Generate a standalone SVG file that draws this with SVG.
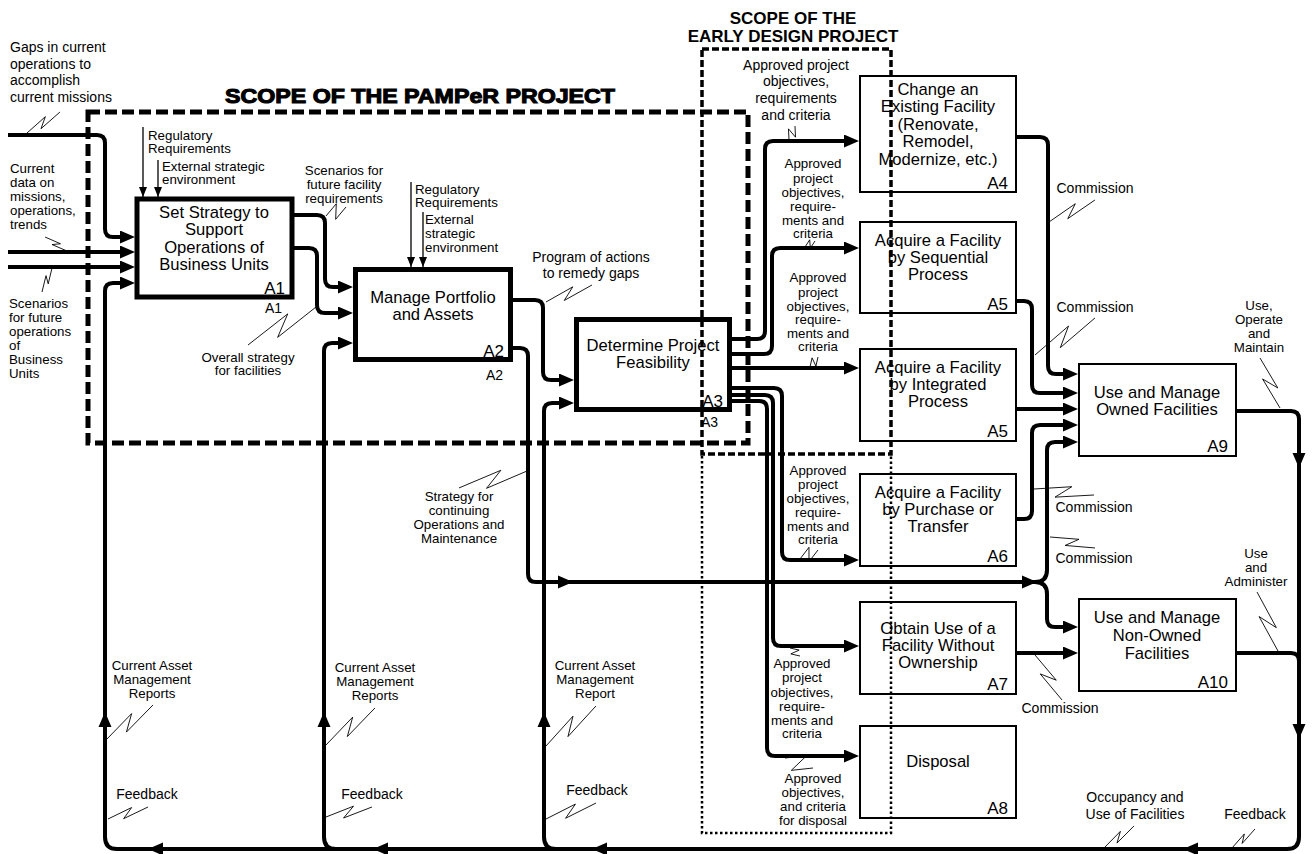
<svg xmlns="http://www.w3.org/2000/svg" xmlns:xlink="http://www.w3.org/1999/xlink" width="1316" height="854" viewBox="0 0 1316 854">
  <style>
    text { font-family: "Liberation Sans", Arial, sans-serif; fill: #000; }
    .lb { font-size: 14px; }
    .sm { font-size: 13.3px; }
    .mid { text-anchor: middle; }
    .bx { font-size: 16.6px; text-anchor: middle; }
    .id { font-size: 17px; text-anchor: end; }
    .ids { font-size: 14px; text-anchor: end; }
    .box { fill: #fff; stroke: #000; stroke-width: 2; }
    .box.thick { stroke-width: 5; }
    .wire { fill: none; stroke: #000; stroke-width: 4; stroke-linejoin: round; }
    .arr { marker-end: url(#ar); }
    .ctl { fill: none; stroke: #000; stroke-width: 1.3; marker-end: url(#ta); }
    .sq { fill: none; stroke: #000; stroke-width: 0.9; }
    .pamper { fill: none; stroke: #000; stroke-width: 5; stroke-dasharray: 12 5; }
    .early { fill: none; stroke: #000; stroke-width: 3.5; stroke-dasharray: 7 3; }
    .dots { fill: none; stroke: #000; stroke-width: 2.5; stroke-dasharray: 2.5 2.5; }
  </style>
  <defs>
    <marker id="ar" markerUnits="userSpaceOnUse" markerWidth="15" markerHeight="13" viewBox="0 0 15 13" refX="10" refY="6.5" orient="auto">
      <path d="M0,0 L15,6.5 L0,13 z"/>
    </marker>
    <marker id="ta" markerUnits="userSpaceOnUse" markerWidth="10" markerHeight="8" viewBox="0 0 10 8" refX="10" refY="4" orient="auto">
      <path d="M0,0 L10,4 L0,8 z"/>
    </marker>
    <!-- arrowhead placed along a wire, tip at origin pointing +x -->
    <path id="ah" d="M0,0 L-15,-6.5 L-15,6.5 z"/>
    <!-- label squiggles, unit length 100 along +x -->
    <path id="sq" class="sq" vector-effect="non-scaling-stroke" d="M0,0 L62,-10 L36,10 L100,0"/>
    <path id="sqs" class="sq" vector-effect="non-scaling-stroke" d="M0,0 L66,-32 L34,32 L100,0"/>
  </defs>

  <rect width="1316" height="854" fill="#fff"/>

  <!-- connectors -->
  <g id="connectors">
    <!-- inputs to A1 -->
    <path class="wire arr" d="M8,135 H97 Q105,135 105,143 V229 Q105,237 113,237 H130"/>
    <path class="wire arr" d="M8,252 H130"/>
    <path class="wire arr" d="M8,267 H130"/>
    <!-- feedback loop from A9 / A10 back along the bottom -->
    <path class="wire arr" d="M1237,411 H1291 Q1299,411 1299,419 V837 Q1299,849 1287,849 H117 Q105,849 105,837 V291 Q105,283 113,283 H130"/>
    <path class="wire" d="M1237,653 H1291 Q1299,653 1299,661"/>
    <path class="wire arr" d="M336,849 Q324,849 324,837 V351 Q324,343 332,343 H348"/>
    <path class="wire arr" d="M556,849 Q544,849 544,837 V411 Q544,403 552,403 H569"/>
    <!-- A1 outputs -->
    <path class="wire arr" d="M294,215 H317 Q325,215 325,223 V279 Q325,287 333,287 H348"/>
    <path class="wire arr" d="M294,248 H309 Q317,248 317,256 V305 Q317,313 325,313 H348"/>
    <!-- A2 outputs -->
    <path class="wire arr" d="M513,300 H535 Q543,300 543,308 V372 Q543,380 551,380 H569"/>
    <path class="wire arr" d="M513,348 H520 Q528,348 528,356 V574 Q528,582 536,582 H1035 Q1047,582 1047,570 V450 Q1047,442 1055,442 H1073"/>
    <path class="wire arr" d="M1035,582 Q1047,582 1047,594 V619 Q1047,627 1055,627 H1073"/>
    <!-- A3 outputs -->
    <path class="wire arr" d="M732,339 H757 Q765,339 765,331 V149 Q765,141 773,141 H854"/>
    <path class="wire arr" d="M732,354 H764 Q772,354 772,346 V256 Q772,248 780,248 H854"/>
    <path class="wire arr" d="M732,368 H854"/>
    <path class="wire arr" d="M732,388 H774 Q782,388 782,396 V552 Q782,560 790,560 H854"/>
    <path class="wire arr" d="M732,395 H765 Q773,395 773,403 V638 Q773,646 781,646 H854"/>
    <path class="wire arr" d="M732,401 H759 Q767,401 767,409 V748 Q767,756 775,756 H854"/>
    <!-- commissioning outputs to A9 / A10 -->
    <path class="wire arr" d="M1017,137 H1040 Q1048,137 1048,145 V366 Q1048,374 1056,374 H1073"/>
    <path class="wire arr" d="M1017,301 H1024 Q1032,301 1032,309 V385 Q1032,393 1040,393 H1073"/>
    <path class="wire arr" d="M1017,409 H1073"/>
    <path class="wire arr" d="M1017,519 H1024 Q1032,519 1032,511 V433 Q1032,425 1040,425 H1073"/>
    <path class="wire arr" d="M1017,653 H1073"/>

    <!-- arrowheads along wires -->
    <use href="#ah" transform="translate(573,582)"/>
    <use href="#ah" transform="translate(1037,582)"/>
    <use href="#ah" transform="translate(105,712) rotate(-90)"/>
    <use href="#ah" transform="translate(324,712) rotate(-90)"/>
    <use href="#ah" transform="translate(544,712) rotate(-90)"/>
    <use href="#ah" transform="translate(1299,468) rotate(90)"/>
    <use href="#ah" transform="translate(1299,739) rotate(90)"/>
    <use href="#ah" transform="translate(148,849) rotate(180)"/>
    <use href="#ah" transform="translate(373,849) rotate(180)"/>
    <use href="#ah" transform="translate(592,849) rotate(180)"/>
    <use href="#ah" transform="translate(1183,849) rotate(180)"/>

    <!-- controls -->
    <path class="ctl" d="M143,127 V197"/>
    <path class="ctl" d="M158,160 V197"/>
    <path class="ctl" d="M411,182 V267"/>
    <path class="ctl" d="M423,212 V267"/>

    <!-- squiggles -->
    <use href="#sq" transform="translate(27,133) rotate(-32.5) scale(0.391)"/>
    <use href="#sq" transform="translate(67,251) rotate(-147.5) scale(0.26)"/>
    <use href="#sq" transform="translate(52,268) rotate(112.6) scale(0.26)"/>
    <use href="#sqs" transform="translate(326,216) rotate(-24.2) scale(0.219)"/>
    <use href="#sq" transform="translate(316,307) rotate(150.8) scale(0.779)"/>
    <use href="#sq" transform="translate(546,302) rotate(-20.3) scale(0.49)"/>
    <use href="#sq" transform="translate(527,471) rotate(166) scale(0.701)"/>
    <use href="#sq" transform="translate(106,740) rotate(-36.7) scale(0.586)"/>
    <use href="#sq" transform="translate(108,819) rotate(-16.7) scale(0.418)"/>
    <use href="#sq" transform="translate(326,745) rotate(-37.1) scale(0.614)"/>
    <use href="#sq" transform="translate(326,817) rotate(-12.3) scale(0.471)"/>
    <use href="#sq" transform="translate(546,746) rotate(-38.7) scale(0.64)"/>
    <use href="#sq" transform="translate(546,819) rotate(-17.7) scale(0.525)"/>
    <use href="#sqs" transform="translate(789,140) rotate(-66.8) scale(0.152)"/>
    <use href="#sqs" transform="translate(805,247) rotate(-31) scale(0.117)"/>
    <use href="#sqs" transform="translate(810,367) rotate(-51.3) scale(0.128)"/>
    <use href="#sqs" transform="translate(800,559) rotate(-26.6) scale(0.201)"/>
    <use href="#sqs" transform="translate(790,648) rotate(38.7) scale(0.128)"/>
    <use href="#sqs" transform="translate(785,758) rotate(19.7) scale(0.297)"/>
    <use href="#sq" transform="translate(1049,222) rotate(-25.6) scale(0.51)"/>
    <use href="#sq" transform="translate(1035,355) rotate(-31.7) scale(0.705)"/>
    <use href="#sq" transform="translate(1034,489) rotate(5.7) scale(0.603)"/>
    <use href="#sq" transform="translate(1050,537) rotate(13.7) scale(0.463)"/>
    <use href="#sq" transform="translate(1035,655) rotate(59) scale(0.525)"/>
    <use href="#sq" transform="translate(1280,408) rotate(-111.8) scale(0.539)"/>
    <use href="#sq" transform="translate(1278,651) rotate(-109.6) scale(0.626)"/>
    <use href="#sq" transform="translate(1104,848) rotate(-36.3) scale(0.372)"/>
    <use href="#sq" transform="translate(1232,848) rotate(-39.6) scale(0.298)"/>

    <!-- connector labels -->
    <text class="lb" x="10"><tspan x="10" y="52">Gaps in current</tspan><tspan x="10" y="69">operations to</tspan><tspan x="10" y="85">accomplish</tspan><tspan x="10" y="102">current missions</tspan></text>
    <text class="sm" x="10"><tspan x="10" y="173">Current</tspan><tspan x="10" y="187">data on</tspan><tspan x="10" y="201">missions,</tspan><tspan x="10" y="215">operations,</tspan><tspan x="10" y="229">trends</tspan></text>
    <text class="sm" x="9"><tspan x="9" y="308">Scenarios</tspan><tspan x="9" y="322">for future</tspan><tspan x="9" y="336">operations</tspan><tspan x="9" y="350">of</tspan><tspan x="9" y="364">Business</tspan><tspan x="9" y="378">Units</tspan></text>
    <text class="sm"><tspan x="148" y="140">Regulatory</tspan><tspan x="148" y="153">Requirements</tspan></text>
    <text class="sm"><tspan x="162" y="171">External strategic</tspan><tspan x="162" y="184">environment</tspan></text>
    <text class="sm mid"><tspan x="344" y="175">Scenarios for</tspan><tspan x="344" y="189">future facility</tspan><tspan x="344" y="203">requirements</tspan></text>
    <text class="sm"><tspan x="415" y="194">Regulatory</tspan><tspan x="415" y="207">Requirements</tspan></text>
    <text class="sm"><tspan x="425" y="224">External</tspan><tspan x="425" y="238">strategic</tspan><tspan x="425" y="252">environment</tspan></text>
    <text class="sm mid"><tspan x="248" y="362">Overall strategy</tspan><tspan x="248" y="375">for facilities</tspan></text>
    <text class="lb mid"><tspan x="591" y="262">Program of actions</tspan><tspan x="591" y="278">to remedy gaps</tspan></text>
    <text class="sm mid"><tspan x="459" y="501">Strategy for</tspan><tspan x="459" y="515">continuing</tspan><tspan x="459" y="529">Operations and</tspan><tspan x="459" y="543">Maintenance</tspan></text>
    <text class="sm mid"><tspan x="152" y="670">Current Asset</tspan><tspan x="152" y="684">Management</tspan><tspan x="152" y="698">Reports</tspan></text>
    <text class="lb mid" x="147" y="799">Feedback</text>
    <text class="sm mid"><tspan x="375" y="672">Current Asset</tspan><tspan x="375" y="686">Management</tspan><tspan x="375" y="700">Reports</tspan></text>
    <text class="lb mid" x="372" y="799">Feedback</text>
    <text class="sm mid"><tspan x="595" y="670">Current Asset</tspan><tspan x="595" y="684">Management</tspan><tspan x="595" y="698">Report</tspan></text>
    <text class="lb mid" x="597" y="795">Feedback</text>
    <text class="lb mid"><tspan x="796" y="70">Approved project</tspan><tspan x="796" y="86">objectives,</tspan><tspan x="796" y="103">requirements</tspan><tspan x="796" y="120">and criteria</tspan></text>
    <text class="sm mid"><tspan x="813" y="168">Approved</tspan><tspan x="813" y="183">project</tspan><tspan x="813" y="197">objectives,</tspan><tspan x="813" y="211">require-</tspan><tspan x="813" y="225">ments and</tspan><tspan x="813" y="238">criteria</tspan></text>
    <text class="sm mid"><tspan x="818" y="282">Approved</tspan><tspan x="818" y="297">project</tspan><tspan x="818" y="311">objectives,</tspan><tspan x="818" y="324">require-</tspan><tspan x="818" y="338">ments and</tspan><tspan x="818" y="351">criteria</tspan></text>
    <text class="sm mid"><tspan x="818" y="475">Approved</tspan><tspan x="818" y="489">project</tspan><tspan x="818" y="503">objectives,</tspan><tspan x="818" y="517">require-</tspan><tspan x="818" y="531">ments and</tspan><tspan x="818" y="544">criteria</tspan></text>
    <text class="sm mid"><tspan x="802" y="668">Approved</tspan><tspan x="802" y="682">project</tspan><tspan x="802" y="697">objectives,</tspan><tspan x="802" y="711">require-</tspan><tspan x="802" y="725">ments and</tspan><tspan x="802" y="738">criteria</tspan></text>
    <text class="sm mid"><tspan x="813" y="783">Approved</tspan><tspan x="813" y="797">objectives,</tspan><tspan x="813" y="811">and criteria</tspan><tspan x="813" y="825">for disposal</tspan></text>
    <text class="lb mid" x="1095" y="193">Commission</text>
    <text class="lb mid" x="1095" y="312">Commission</text>
    <text class="lb mid" x="1094" y="512">Commission</text>
    <text class="lb mid" x="1094" y="563">Commission</text>
    <text class="lb mid" x="1060" y="713">Commission</text>
    <text class="sm mid"><tspan x="1259" y="310">Use,</tspan><tspan x="1259" y="324">Operate</tspan><tspan x="1259" y="338">and</tspan><tspan x="1259" y="352">Maintain</tspan></text>
    <text class="sm mid"><tspan x="1256" y="558">Use</tspan><tspan x="1256" y="572">and</tspan><tspan x="1256" y="586">Administer</tspan></text>
    <text class="lb mid"><tspan x="1135" y="802">Occupancy and</tspan><tspan x="1135" y="819">Use of Facilities</tspan></text>
    <text class="lb mid" x="1255" y="819">Feedback</text>
  </g>

  <!-- activity boxes -->
  <g id="A1">
    <rect class="box thick" x="137" y="199" width="155" height="98"/>
    <text class="bx"><tspan x="214" y="218">Set Strategy to</tspan><tspan x="214" y="235">Support</tspan><tspan x="214" y="253">Operations of</tspan><tspan x="214" y="270">Business Units</tspan></text>
    <text class="id" x="285" y="294">A1</text>
    <text class="ids" x="282" y="313">A1</text>
  </g>
  <g id="A2">
    <rect class="box thick" x="355.5" y="269.5" width="155" height="90"/>
    <text class="bx"><tspan x="433" y="303">Manage Portfolio</tspan><tspan x="433" y="320">and Assets</tspan></text>
    <text class="id" x="504" y="357">A2</text>
    <text class="ids" x="503" y="380">A2</text>
  </g>
  <g id="A3">
    <rect class="box thick" x="576.5" y="319.5" width="153" height="90"/>
    <text class="bx"><tspan x="653" y="351">Determine Project</tspan><tspan x="653" y="368">Feasibility</tspan></text>
    <text class="id" x="723" y="407">A3</text>
    <text class="ids" x="718" y="427">A3</text>
  </g>
  <g id="A4">
    <rect class="box" x="860" y="76" width="156" height="116"/>
    <text class="bx"><tspan x="938" y="95">Change an</tspan><tspan x="938" y="112">Existing Facility</tspan><tspan x="938" y="130">(Renovate,</tspan><tspan x="938" y="147">Remodel,</tspan><tspan x="938" y="165">Modernize, etc.)</tspan></text>
    <text class="id" x="1008" y="189">A4</text>
  </g>
  <g id="A5-sequential">
    <rect class="box" x="860" y="222" width="156" height="91"/>
    <text class="bx"><tspan x="938" y="246">Acquire a Facility</tspan><tspan x="938" y="263">by Sequential</tspan><tspan x="938" y="280">Process</tspan></text>
    <text class="id" x="1008" y="310">A5</text>
  </g>
  <g id="A5-integrated">
    <rect class="box" x="860" y="349" width="156" height="92"/>
    <text class="bx"><tspan x="938" y="373">Acquire a Facility</tspan><tspan x="938" y="390">by Integrated</tspan><tspan x="938" y="407">Process</tspan></text>
    <text class="id" x="1008" y="437">A5</text>
  </g>
  <g id="A6">
    <rect class="box" x="860" y="474" width="156" height="92"/>
    <text class="bx"><tspan x="938" y="498">Acquire a Facility</tspan><tspan x="938" y="515">by Purchase or</tspan><tspan x="938" y="532">Transfer</tspan></text>
    <text class="id" x="1008" y="562">A6</text>
  </g>
  <g id="A7">
    <rect class="box" x="860" y="602" width="156" height="92"/>
    <text class="bx"><tspan x="938" y="634">Obtain Use of a</tspan><tspan x="938" y="651">Facility Without</tspan><tspan x="938" y="668">Ownership</tspan></text>
    <text class="id" x="1008" y="690">A7</text>
  </g>
  <g id="A8">
    <rect class="box" x="860" y="726" width="156" height="92"/>
    <text class="bx" x="938" y="767">Disposal</text>
    <text class="id" x="1008" y="814">A8</text>
  </g>
  <g id="A9">
    <rect class="box" x="1079" y="364" width="157" height="92"/>
    <text class="bx"><tspan x="1157" y="398">Use and Manage</tspan><tspan x="1157" y="415">Owned Facilities</tspan></text>
    <text class="id" x="1228" y="452">A9</text>
  </g>
  <g id="A10">
    <rect class="box" x="1079" y="599" width="157" height="92"/>
    <text class="bx"><tspan x="1157" y="623">Use and Manage</tspan><tspan x="1157" y="641">Non-Owned</tspan><tspan x="1157" y="659">Facilities</tspan></text>
    <text class="id" x="1228" y="688">A10</text>
  </g>

  <!-- project scope boundaries -->
  <g id="scope-pamper">
    <rect class="pamper" x="88" y="112" width="660" height="331"/>
    <text x="225" y="103" font-size="21" font-weight="bold" stroke="#000" stroke-width="1.1" textLength="390" lengthAdjust="spacingAndGlyphs">SCOPE OF THE PAMPeR PROJECT</text>
  </g>
  <g id="scope-early-design">
    <rect class="early" x="702" y="49" width="189" height="405"/>
    <path class="dots" d="M702,456 V833 H891 V456"/>
    <text font-size="17" font-weight="bold" text-anchor="middle"><tspan x="793" y="24">SCOPE OF THE</tspan><tspan x="793" y="42">EARLY DESIGN PROJECT</tspan></text>
  </g>
</svg>
